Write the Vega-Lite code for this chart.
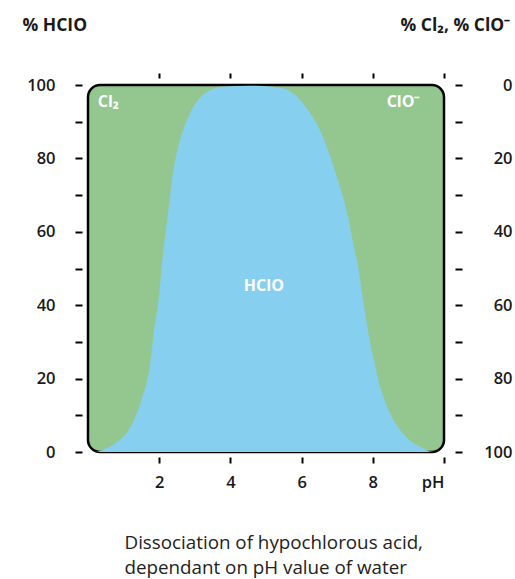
{
  "$schema": "https://vega.github.io/schema/vega-lite/v6.json",
  "width": 356,
  "height": 367,
  "autosize": "none",
  "padding": {"left": 88, "top": 85, "right": 71, "bottom": 127},
  "background": "white",
  "config": {
    "view": {"stroke": "black", "strokeWidth": 2.5, "cornerRadius": 12, "fill": "#93c78f"},
    "font": "Open Sans",
    "axis": {
      "domain": false, "grid": false, "tickColor": "black", "tickWidth": 2,
      "labelColor": "#1a1a1a", "labelFont": "Open Sans", "labelFontSize": 16.5, "labelFontWeight": 600,
      "titleFont": "Open Sans", "titleColor": "#1a1a1a"
    }
  },
  "data": {"values": [
    {"pH": 0, "HClO": 0},
    {"pH": 0.2, "HClO": 0},
    {"pH": 0.34, "HClO": 0.3},
    {"pH": 0.53, "HClO": 1},
    {"pH": 0.81, "HClO": 2.7},
    {"pH": 1.1, "HClO": 5.4},
    {"pH": 1.35, "HClO": 10},
    {"pH": 1.52, "HClO": 14.7},
    {"pH": 1.65, "HClO": 19},
    {"pH": 1.74, "HClO": 23.7},
    {"pH": 1.85, "HClO": 32.7},
    {"pH": 1.99, "HClO": 42},
    {"pH": 2.07, "HClO": 50.5},
    {"pH": 2.13, "HClO": 55.9},
    {"pH": 2.25, "HClO": 65.1},
    {"pH": 2.36, "HClO": 74.1},
    {"pH": 2.53, "HClO": 83.1},
    {"pH": 2.67, "HClO": 87.7},
    {"pH": 2.87, "HClO": 92.4},
    {"pH": 3.09, "HClO": 95.9},
    {"pH": 3.43, "HClO": 98.6},
    {"pH": 3.75, "HClO": 99.5},
    {"pH": 4.5, "HClO": 99.8},
    {"pH": 5.2, "HClO": 99.5},
    {"pH": 5.62, "HClO": 98.6},
    {"pH": 5.96, "HClO": 95.9},
    {"pH": 6.24, "HClO": 92.4},
    {"pH": 6.52, "HClO": 87.7},
    {"pH": 6.71, "HClO": 83.1},
    {"pH": 7.02, "HClO": 74.1},
    {"pH": 7.28, "HClO": 65.1},
    {"pH": 7.47, "HClO": 55.9},
    {"pH": 7.59, "HClO": 50.5},
    {"pH": 7.72, "HClO": 42},
    {"pH": 7.87, "HClO": 32.7},
    {"pH": 8.06, "HClO": 23.7},
    {"pH": 8.17, "HClO": 19},
    {"pH": 8.31, "HClO": 14.7},
    {"pH": 8.51, "HClO": 10},
    {"pH": 8.82, "HClO": 5.4},
    {"pH": 9.1, "HClO": 2.7},
    {"pH": 9.41, "HClO": 1},
    {"pH": 9.55, "HClO": 0.3},
    {"pH": 9.75, "HClO": 0},
    {"pH": 10, "HClO": 0}
  ]},
  "layer": [
    {
      "mark": {"type": "area", "color": "#86cfee", "interpolate": "monotone"},
      "encoding": {
        "x": {"field": "pH", "type": "quantitative", "scale": {"domain": [0, 10], "nice": false},
          "axis": {"orient": "bottom", "values": [2, 4, 6, 8, 10], "offset": 5, "tickSize": 6, "labelPadding": 11,
            "labelFlush": true, "labelExpr": "datum.value == 10 ? 'pH' : datum.label",
            "title": ["Dissociation of hypochlorous acid,", "dependant on pH value of water"],
            "titleFontSize": 18.8, "titleFontWeight": "normal", "titleColor": "#222222", "titleAlign": "left",
            "titleAnchor": null, "titleBaseline": "alphabetic", "titleX": 36, "titleY": 91, "titleLineHeight": 25}},
        "y": {"field": "HClO", "type": "quantitative", "scale": {"domain": [0, 100], "nice": false},
          "axis": {"orient": "left", "values": [0, 10, 20, 30, 40, 50, 60, 70, 80, 90, 100], "offset": 6, "tickSize": 7,
            "labelPadding": 20, "labelExpr": "datum.value % 20 == 0 ? datum.label : ''",
            "title": "% HCIO", "titleAngle": 0, "titleAlign": "left", "titleBaseline": "top", "titleAnchor": null,
            "titleX": -60, "titleY": -69, "titleFontSize": 17.5, "titleFontWeight": "bold"}}
      }
    },
    {
      "mark": {"type": "area", "opacity": 0, "interpolate": "monotone"},
      "encoding": {
        "x": {"field": "pH", "type": "quantitative",
          "axis": {"orient": "top", "values": [2, 4, 6, 8, 10], "offset": 7, "tickSize": 5, "labels": false, "title": null}},
        "y": {"field": "HClO", "type": "quantitative",
          "axis": {"orient": "right", "values": [0, 10, 20, 30, 40, 50, 60, 70, 80, 90, 100], "offset": 11, "tickSize": 7,
            "labelAlign": "right", "labelPadding": 50,
            "labelExpr": "datum.value % 20 == 0 ? toString(100 - datum.value) : ''",
            "title": "% Cl₂, % ClO⁻", "titleAngle": 0, "titleAlign": "left", "titleBaseline": "top", "titleAnchor": null,
            "titleX": -55, "titleY": -69, "titleFontSize": 17.5, "titleFontWeight": "bold"}}
      }
    },
    {
      "data": {"values": [
        {"pH": 0.57, "v": 95.4, "t": "Cl₂"},
        {"pH": 8.85, "v": 95.4, "t": "ClO⁻"},
        {"pH": 4.94, "v": 45.2, "t": "HClO"}
      ]},
      "mark": {"type": "text", "color": "white", "font": "Open Sans", "fontSize": 16, "fontWeight": "bold", "align": "center", "baseline": "middle"},
      "encoding": {
        "x": {"field": "pH", "type": "quantitative", "axis": null},
        "y": {"field": "v", "type": "quantitative", "axis": null},
        "text": {"field": "t"}
      }
    }
  ],
  "resolve": {"axis": {"x": "independent", "y": "independent"}}
}
